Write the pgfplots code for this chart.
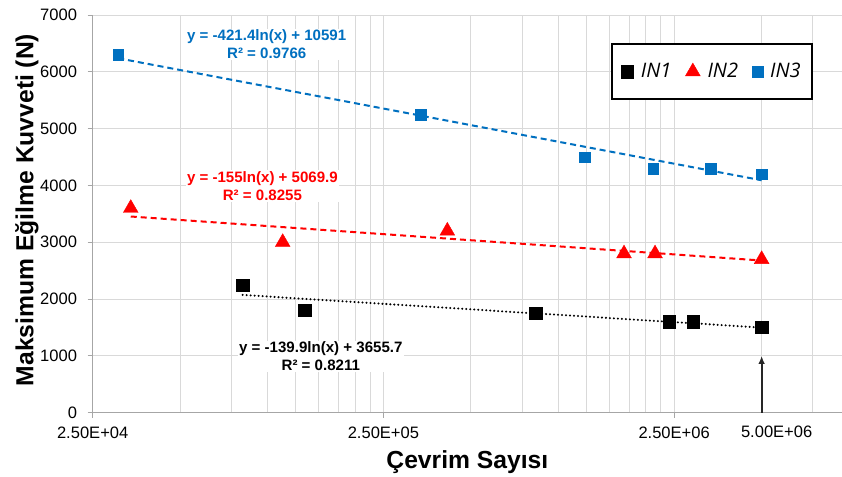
\documentclass[border=0pt]{standalone}
\usepackage{pgfplots}
\pgfplotsset{compat=1.18}
\usepackage{fontspec}
\setmainfont{Liberation Sans}
\newfontfamily\legfont{Open Sans}
\usetikzlibrary{calc,arrows.meta}
\definecolor{inblue}{HTML}{0070C0}
\definecolor{inred}{HTML}{FF0000}
\definecolor{gridgray}{HTML}{D9D9D9}
\definecolor{axgray}{HTML}{A6A6A6}

\begin{document}
\begin{tikzpicture}
\begin{axis}[
  scale only axis, width=562pt, height=298.3pt,
  xmode=log, log basis x=10,
  xmin=25000, xmax=9.45e6, ymin=0, ymax=7000,
  axis lines=left, axis line style={-, draw=axgray, line width=0.8pt},
  xtick={25000,250000,2500000}, xticklabels={2.50E+04,2.50E+05,2.50E+06},
  extra x ticks={5000000}, extra x tick labels={5.00E+06},
  extra x tick style={grid=none, major tick length=0pt, xticklabel style={xshift=11.25pt, yshift=-2.8pt}},
  minor xtick={50000,75000,100000,125000,150000,175000,200000,225000,
    500000,750000,1000000,1250000,1500000,1750000,2000000,2250000,5000000,7500000},
  ytick={0,1000,...,7000},
  grid=both,
  major grid style={gridgray, line width=0.75pt},
  minor grid style={gridgray, line width=0.75pt},
  tick align=outside, major tick length=3.75pt, minor tick length=0pt,
  tick style={axgray, line width=0.75pt},
  ticklabel style={font=\fontsize{12.4}{14}\selectfont},
  xticklabel style={yshift=-3.3pt},
  yticklabel style={xshift=-4.5pt},
  /pgf/number format/assume math mode=true, /pgf/number format/1000 sep={},
  xlabel={Çevrim Sayısı}, ylabel={Maksimum Eğilme Kuvveti (N)},
  every axis x label/.style={at={(rel axis cs:0.5,0)}, yshift=-36.8pt, anchor=center,
    font=\bfseries\fontsize{18.5}{22}\selectfont},
  every axis y label/.style={at={(rel axis cs:0,0.51)}, xshift=-49.3pt, rotate=90, anchor=center,
    font=\bfseries\fontsize{18.5}{22}\selectfont},
  legend columns=3,
  legend image code/.code={\draw[#1] plot coordinates {(0pt,0pt)};},
  legend style={at={(rel axis cs:0.9617,0.9289)}, anchor=north east,
    draw=black, line width=1.5pt, inner xsep=7.3pt, inner ysep=12.3pt,
    font=\legfont\itshape\fontsize{15}{17}\selectfont,
    nodes={inner xsep=1.5pt},
    /tikz/every odd column/.append style={column sep=4pt},
    /tikz/every even column/.append style={column sep=9pt}},
]
% IN1
\addplot[only marks, mark=square*, mark size=4.6pt, black, mark options={line width=0.3pt}]
  coordinates {(82000,2250) (134000,1800) (835000,1750) (2410000,1600) (2900000,1600) (5000000,1500)};
\addlegendentry{IN1}
% IN2
\addplot[only marks, mark=triangle*, mark size=6.4pt, inred, mark options={line width=0.3pt}]
  coordinates {(33800,3600) (112600,3000) (414800,3200) (1681000,2800) (2149000,2800) (5000000,2700)};
\addlegendentry{IN2}
% IN3
\addplot[only marks, mark=square*, mark size=4pt, inblue, mark options={line width=0.3pt}]
  coordinates {(30600,6300) (336700,5250) (1234000,4500) (2120000,4300) (3340000,4300) (5000000,4200)};
\addlegendentry{IN3}

% trend lines (end points of the fitted logarithmic curves)
\addplot[forget plot, no markers, inblue, line width=1.5pt, dash pattern=on 4.5pt off 3pt]
  coordinates {(30600,6238.5) (5000000,4091)};
\addplot[forget plot, no markers, inred, line width=1.5pt, dash pattern=on 4.5pt off 3pt]
  coordinates {(33800,3453.5) (5000000,2679)};
\addplot[forget plot, no markers, black, line width=1.7pt, line cap=round, dash pattern=on 0pt off 3pt]
  coordinates {(82000,2072.8) (5000000,1497.8)};

\node[fill=white, inner sep=1pt, align=center, text=inblue, font=\bfseries\fontsize{11.3}{13.5}\selectfont]
  at (axis cs:99200,6480) {y = -421.4ln(x) + 10591\\R² = 0.9766};
\node[fill=white, inner sep=1pt, align=center, text=inred, font=\bfseries\fontsize{11.3}{13.5}\selectfont]
  at (axis cs:95900,3995) {y = -155ln(x) + 5069.9\\R² = 0.8255};
\node[fill=white, inner sep=1pt, align=center, text=black, font=\bfseries\fontsize{11.3}{13.5}\selectfont]
  at (axis cs:152300,990) {y = -139.9ln(x) + 3655.7\\R² = 0.8211};

\draw[black!85, line width=1.3pt, -{Latex[length=6pt,width=5pt]}] (axis cs:5000000,0) -- (axis cs:5000000,1000);
\end{axis}
\pgfresetboundingbox
\path[use as bounding box] ($(current axis.south west)+(-69.5pt,-48.2pt)$) rectangle ($(current axis.north east)+(0pt,11.25pt)$);
\end{tikzpicture}
\end{document}
